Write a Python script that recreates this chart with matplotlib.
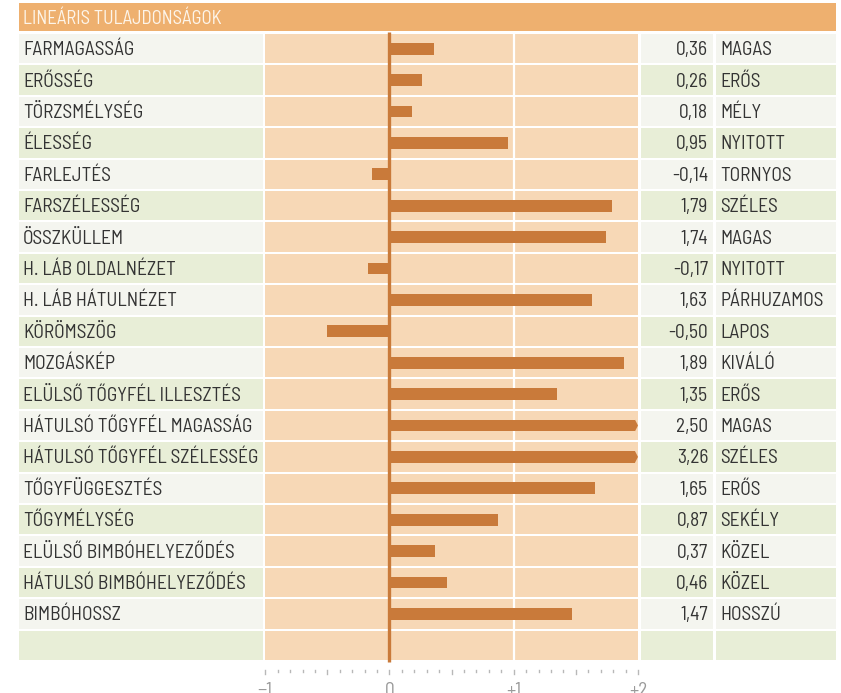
import matplotlib
matplotlib.use("Agg")
import matplotlib.pyplot as plt
import numpy as np
from matplotlib.patches import Rectangle, Polygon

plt.rcParams['font.family'] = ['Barlow Semi Condensed', 'Roboto Condensed', 'DejaVu Sans']

# Datos
tulajdonsag = ["FARMAGASSÁG", "ERŐSSÉG", "TÖRZSMÉLYSÉG", "ÉLESSÉG", "FARLEJTÉS",
               "FARSZÉLESSÉG", "ÖSSZKÜLLEM", "H. LÁB OLDALNÉZET", "H. LÁB HÁTULNÉZET",
               "KÖRÖMSZÖG", "MOZGÁSKÉP", "ELÜLSŐ TŐGYFÉL ILLESZTÉS",
               "HÁTULSÓ TŐGYFÉL MAGASSÁG", "HÁTULSÓ TŐGYFÉL SZÉLESSÉG",
               "TŐGYFÜGGESZTÉS", "TŐGYMÉLYSÉG", "ELÜLSŐ BIMBÓHELYEZŐDÉS",
               "HÁTULSÓ BIMBÓHELYEZŐDÉS", "BIMBÓHOSSZ"]
ertekek = [0.36, 0.26, 0.18, 0.95, -0.14, 1.79, 1.74, -0.17, 1.63, -0.50,
           1.89, 1.35, 2.50, 3.26, 1.65, 0.87, 0.37, 0.46, 1.47]
jelzok = ["MAGAS", "ERŐS", "MÉLY", "NYITOTT", "TORNYOS", "SZÉLES", "MAGAS",
          "NYITOTT", "PÁRHUZAMOS", "LAPOS", "KIVÁLÓ", "ERŐS", "MAGAS", "SZÉLES",
          "ERŐS", "SEKÉLY", "KÖZEL", "KÖZEL", "HOSSZÚ"]
tickErtekek = [-1, 0, 1, 2]
tickCimkek = ["\u22121", "0", "+1", "+2"]
cim = "LINEÁRIS TULAJDONSÁGOK"

# Colores
cNaranja = "#c97a3a"
cFondoBar = "#f7d8b6"
cGris = "#f4f5ef"
cVerde = "#e8eed7"
cHeader = "#eeb06f"
cTexto = "#333333"

# Geometria (pixeles -> unidades)
W, H = 841, 693
x0px = 389.5     # posicion del 0
escala = 124.25  # px por unidad
y0px = 33.0      # inicio de la primera fila
filaPx = 31.4

def px2x(px):
    return (px - x0px) / escala

def py2y(py):
    return (py - y0px) / filaPx

fig = plt.figure(figsize=(W / 100, H / 100), dpi=100)
ax = fig.add_axes([0, 0, 1, 1])
ax.set_xlim(px2x(0), px2x(W))
ax.set_ylim(py2y(H), py2y(0))
ax.axis('off')

nFilas = len(tulajdonsag) + 1
gap = 1.0 / filaPx

colLabel = (px2x(19), px2x(263))
colChart = (px2x(265.5), px2x(638.3))
colValor = (px2x(641), px2x(713.3))
colJelzo = (px2x(716), px2x(836))

# Encabezado
ax.add_patch(Rectangle((colLabel[0], py2y(3)), colJelzo[1] - colLabel[0],
                       py2y(30.8) - py2y(3), color=cHeader, lw=0))
ax.text(px2x(23), py2y(18.5), cim, color="#fdf5ea", fontsize=13.5,
        va='center', ha='left')

# Filas
for i in range(nFilas):
    cFila = cGris if i % 2 == 0 else cVerde
    for (a, b), c in zip([colLabel, colChart, colValor, colJelzo],
                         [cFila, cFondoBar, cFila, cFila]):
        ax.add_patch(Rectangle((a, i + gap), b - a, 1 - 2 * gap, color=c, lw=0))

# Linea blanca en +1
ax.plot([1, 1], [0, nFilas], color="white", lw=1.6, zorder=2)

# Barras
hBar = 0.37
for i, v in enumerate(ertekek):
    if v > 2:
        punta = 2.0
        base = punta - 3.0 / escala
        ax.barh(i + 0.5, base, height=hBar, left=0, color=cNaranja, zorder=3)
        ax.add_patch(Polygon([[base, i + 0.5 - hBar / 2], [punta, i + 0.5],
                              [base, i + 0.5 + hBar / 2]], closed=True,
                             color=cNaranja, lw=0, zorder=3))
    else:
        ax.barh(i + 0.5, v, height=hBar, left=0, color=cNaranja, zorder=3)

# Linea del cero
ax.plot([0, 0], [py2y(31.5), py2y(661.5)], color=cNaranja, lw=2.4, zorder=4,
        solid_capstyle='butt')

# Textos
fs = 14
for i in range(len(tulajdonsag)):
    ax.text(px2x(23), i + 0.55, tulajdonsag[i], color=cTexto, fontsize=fs,
            va='center', ha='left')
    ax.text(px2x(708), i + 0.55, ("%.2f" % ertekek[i]).replace('.', ','),
            color=cTexto, fontsize=fs, va='center', ha='right')
    ax.text(px2x(720), i + 0.55, jelzok[i], color=cTexto, fontsize=fs,
            va='center', ha='left')

# Escala inferior
yTick = py2y(669.5)
for k in range(-10, 21):
    t = k / 10.0
    if k % 10 == 0:
        largo = 5.0
    elif k % 5 == 0:
        largo = 4.0
    else:
        largo = 2.5
    ax.plot([t, t], [yTick, yTick + largo / filaPx], color="#b8b8b8", lw=1.0)
for t, lab in zip(tickErtekek, tickCimkek):
    ax.text(t, py2y(681.5), lab, color="#9a9a9a", fontsize=fs, ha='center', va='top')

fig.savefig("out.png", dpi=100)
